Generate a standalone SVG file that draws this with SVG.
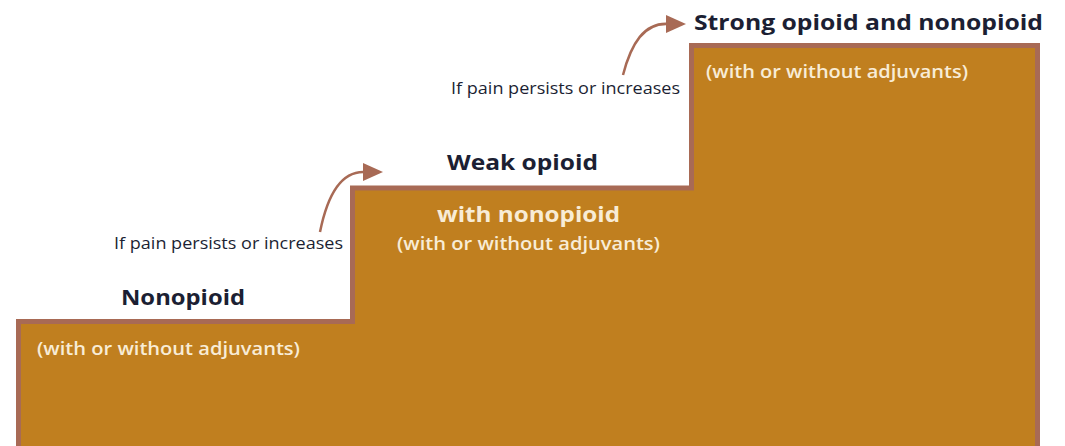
<svg xmlns="http://www.w3.org/2000/svg" width="1065" height="446" viewBox="0 0 1065 446">
<style>
.lbl{font-family:"Open Sans","Noto Sans",sans-serif;fill:#1c1f33}
.title{font-weight:bold;font-size:22px}
.note{font-size:16px}
.sub{font-family:"Open Sans","Noto Sans",sans-serif;fill:#f8ecd6;font-size:18px;font-weight:600}
.arrow{fill:none;stroke:#a86a55;stroke-width:2.5}
.head{fill:#a86a55}
</style>
<g id="stairs">
<path d="M18.5,450 V321.5 H352.5 V188 H691.5 V45.5 H1037.5 V450" fill="#c07f1f" stroke="#a86a55" stroke-width="5"/>
</g>
<g id="step1">
<text class="lbl title" x="121" y="305" textLength="124" lengthAdjust="spacingAndGlyphs">Nonopioid</text>
<text class="sub" x="37" y="355" textLength="263" lengthAdjust="spacingAndGlyphs">(with or without adjuvants)</text>
</g>
<g id="step2">
<text class="lbl title" x="447" y="170" textLength="151" lengthAdjust="spacingAndGlyphs">Weak opioid</text>
<text class="sub" x="437" y="222" style="font-weight:bold;font-size:22px" textLength="183" lengthAdjust="spacingAndGlyphs">with nonopioid</text>
<text class="sub" x="397" y="250" textLength="263" lengthAdjust="spacingAndGlyphs">(with or without adjuvants)</text>
</g>
<g id="step3">
<text class="lbl title" x="694" y="30" textLength="349" lengthAdjust="spacingAndGlyphs">Strong opioid and nonopioid</text>
<text class="sub" x="706" y="78" textLength="262" lengthAdjust="spacingAndGlyphs">(with or without adjuvants)</text>
</g>
<g id="note1">
<text class="lbl note" x="114" y="249" textLength="229" lengthAdjust="spacingAndGlyphs">If pain persists or increases</text>
</g>
<g id="note2">
<text class="lbl note" x="451" y="94" textLength="229" lengthAdjust="spacingAndGlyphs">If pain persists or increases</text>
</g>
<g id="connectors">
<path class="arrow" d="M320,232 C328,192 342,170 366,172"/>
<path class="head" d="M363,163 L383,172 L363,181 z"/>
<path class="arrow" d="M623,75 C631,44 644,22 669,24"/>
<path class="head" d="M666,15 L686,24 L666,33 z"/>
</g>
</svg>
